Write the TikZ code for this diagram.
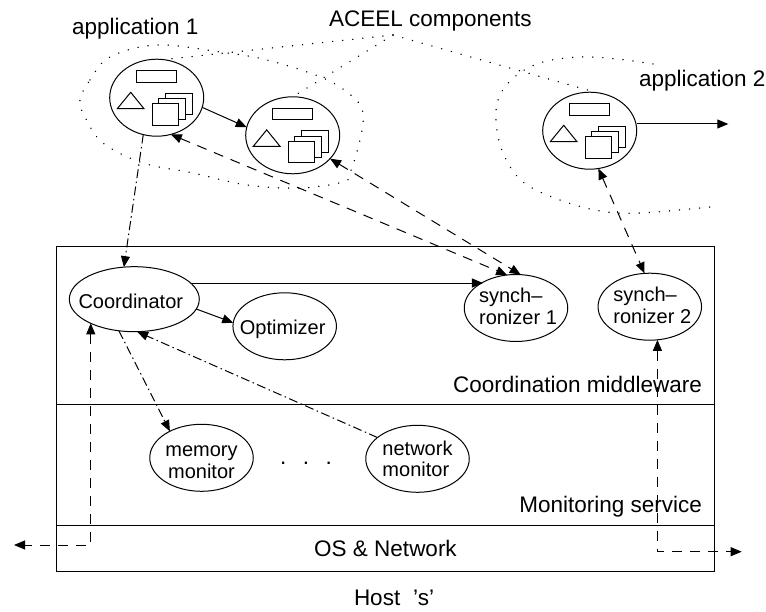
\documentclass[tikz,border=0pt]{standalone}
\usepackage{fontspec}
\setmainfont{Liberation Sans}
\usetikzlibrary{shapes.geometric,arrows.meta}
\newcommand\labelfont{\fontsize{22.5}{26}\selectfont}
\newcommand\ovalfont{\fontsize{20}{21.7}\selectfont}
% zero-size text inside an oval: x shift (doubled kern), first baseline drop, alignment, content
\newcommand\ovaltext[4]{\makebox[0pt]{\kern#1\raisebox{-#2}[0pt][0pt]{\ovalfont\begin{tabular}[t]{@{}#3@{}}#4\end{tabular}}}}
\tikzset{
  lw/.style={line width=1pt},
  oval/.style={ellipse,draw,lw,inner sep=0pt,outer sep=0pt,minimum width=103.5pt,minimum height=67pt},
  compoval/.style={ellipse,draw,lw,inner sep=0pt,outer sep=0pt,minimum width=94pt,minimum height=77pt},
  layer/.style={rectangle,draw,lw,inner sep=0pt,outer sep=0pt,anchor=north west,font=\labelfont},
  txt/.style={inner sep=0pt,outer sep=0pt,font=\labelfont},
  tipend/.style={-{Triangle[length=11pt,width=9pt]}},
  tipboth/.style={{Triangle[length=11pt,width=9pt]}-{Triangle[length=11pt,width=9pt]}},
  dashline/.style={lw,dash pattern=on 10pt off 8pt},
  dashdotline/.style={lw,dash pattern=on 9pt off 3.5pt on 1.5pt off 3.5pt},
  dotline/.style={line width=1.5pt,line cap=round,dash pattern=on 0.1pt off 10pt},
  compparts/.pic={
    \draw[lw] (-20,-26.7) rectangle (20,-15.4);
    \draw[lw] (-26,-5.4) -- (-39.4,11) -- (-12.7,11) -- cycle;
    \draw[lw,fill=white] (8.6,-4.4) rectangle (35.3,17);
    \draw[lw,fill=white] (2,1) rectangle (28.6,22.3);
    \draw[lw,fill=white] (-4.7,6.3) rectangle (22,27.6);
  }
}
\begin{document}
\begin{tikzpicture}[x=1pt,y=-1pt]
\useasboundingbox (0,0) rectangle (766,612);
% layers
\node[layer,minimum width=657.6pt,minimum height=158.4pt] (middleware) at (56.7,246.3) {};
\node[layer,minimum width=657.6pt,minimum height=120.3pt] (monitoring) at (56.7,404.7) {};
\node[layer,minimum width=657.6pt,minimum height=46.7pt] (osnet) at (56.7,525) {OS \& Network};
% components
\node[compoval] (compa) at (156.7,97.7) {};
\node[compoval] (compb) at (292.7,135.3) {};
\node[compoval] (compc) at (589.7,130.7) {};
\pic at (compa) {compparts};
\pic at (compb) {compparts};
\pic at (compc) {compparts};
% ovals
\node[oval,minimum width=130pt,minimum height=65pt] (coord) at (134.3,299.2) {\ovaltext{-7pt}{9.5pt}{c}{Coordinator}};
\node[oval] (optim) at (284.7,326.3) {\ovaltext{-4pt}{8.7pt}{c}{Optimizer}};
\node[oval] (memmon) at (201.5,457.8) {\ovaltext{0pt}{-1pt}{c}{memory\\monitor}};
\node[oval] (netmon) at (417.5,458.8) {\ovaltext{0pt}{-3.8pt}{l}{network\\monitor}};
\node[oval] (syncone) at (516,308) {\ovaltext{4pt}{-5.3pt}{l}{synch--\\ronizer 1}};
\node[oval] (synctwo) at (649.8,306.7) {\ovaltext{5pt}{-5pt}{l}{synch--\\ronizer 2}};
% labels
\node[txt,anchor=base west] (aceel) at (329,26.5) {ACEEL components};
\node[txt,anchor=base west] (appone) at (72,35) {application 1};
\node[txt,anchor=base west] (apptwo) at (639,87) {application 2};
\node[txt,anchor=base east] (midlabel) at (702,392) {Coordination middleware};
\node[txt,anchor=base east] (monlabel) at (702,512.7) {Monitoring service};
\node[txt,anchor=base west] (hostlabel) at (354,605) {Host\hspace{13pt}’s’};
\node[txt,anchor=base] (dots) at (306,464) {.\hspace{16.5pt}.\hspace{16.5pt}.};
% free ends
\coordinate (aceelpt) at (393,35);
\coordinate (appright) at (728.3,124);
\coordinate (leftend) at (14,545);
\coordinate (rightend) at (741.7,551.7);
% dotted: ACEEL pointers
\draw[dotline] (aceelpt) -- (compa.80);
\draw[dotline] (aceelpt) -- (compb.90);
\draw[dotline] (aceelpt) -- (compc.79);
% dotted: application regions
\draw[dotline] plot[smooth cycle,tension=0.6] coordinates {(80,100) (90,80) (110,57) (157,45) (220,52) (267,60) (323,78) (353,97) (363,113) (360,140) (350,173) (343,182) (300,188) (247,185) (193,173) (143,163) (103,143) (85,117)};
\draw[dotline] plot[smooth,tension=0.6] coordinates {(653,64) (617,59) (580,57) (543,62) (517,75) (500,95) (496,120) (503,153) (523,182) (560,200) (600,211) (640,213) (710,207)};
% solid connectors
\draw[lw,tipend] (compa.-12) -- (compb.170);
\draw[lw,tipend] (compc.east |- appright) -- (appright);
\draw[lw,tipend] (coord.16) -- (coord.16 -| syncone.142);
\draw[lw,tipend] (coord.-9) -- (optim.176);
% dashed connectors
\draw[dashline,tipboth] (compa.-69) -- (syncone.105);
\draw[dashline,tipboth] (compb.-32) -- (syncone.82);
\draw[dashline,tipboth] (compc.-77) -- (synctwo.99);
\draw[dashline,tipboth] (coord.-151) |- (leftend);
\draw[dashline,tipboth] (synctwo.-77) |- (rightend);
% dash-dotted connectors
\draw[dashdotline,tipend] (compa.-110) -- (coord.108);
\draw[dashdotline,tipend] (coord.-116) -- (memmon.140);
\draw[dashdotline,tipend] (netmon.152) -- (coord.-85);
\end{tikzpicture}
\end{document}
